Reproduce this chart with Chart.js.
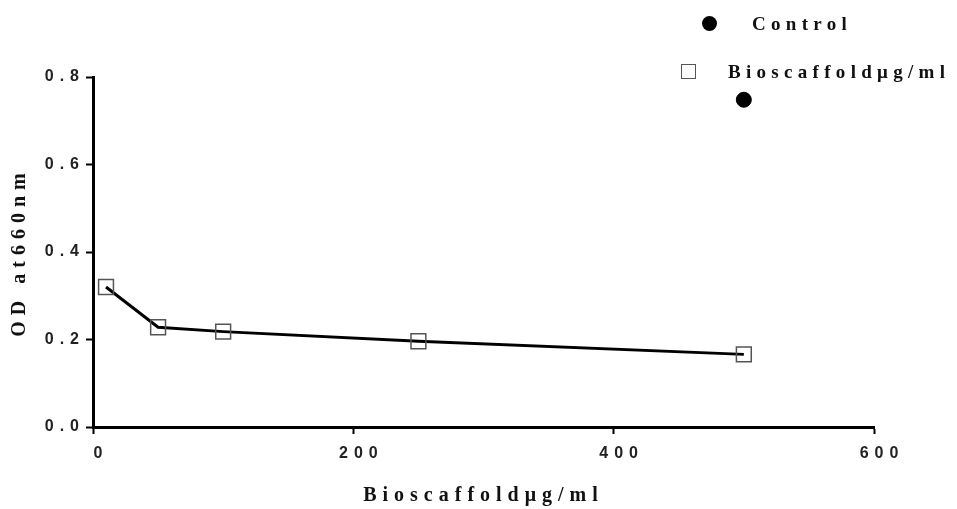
<!DOCTYPE html>
<html>
<head>
<meta charset="utf-8">
<script src="https://cdn.jsdelivr.net/npm/chart.js@4.4.1/dist/chart.umd.min.js"></script>
<style>
body { margin: 0; background: #fff; }
#wrap { position: relative; width: 957px; height: 509px; }
.leg { position: absolute; font: bold 19px "Liberation Serif", serif; letter-spacing: 5.3px; color: #111; white-space: nowrap; line-height: 22px; }
.dot { position: absolute; width: 15px; height: 15px; border-radius: 50%; background: #000; }
.box { position: absolute; width: 15px; height: 15px; border: 1.5px solid #555; box-sizing: border-box; }
</style>
</head>
<body>
<div id="wrap">
  <canvas id="grafico" width="957" height="509"></canvas>
  <div class="dot" style="left:702px;top:16px"></div>
  <div class="leg" id="legControl" style="left:752px;top:13px"></div>
  <div class="box" style="left:681px;top:64px"></div>
  <div class="leg" id="legBio" style="left:728px;top:61px"></div>
</div>
<script>
// dados
const concentracoes = [10, 50, 100, 250, 500];
const odBioscaffold = [0.32, 0.228, 0.218, 0.196, 0.166];
const concControle = [500];
const odControle = [0.748];

const labelControle = 'Control';
const labelBio = 'Bioscaffoldμg/ml';
const tituloX = 'Bioscaffoldμg/ml';
const tituloY = 'OD at660nm';

document.getElementById('legControl').textContent = labelControle;
document.getElementById('legBio').textContent = labelBio;

// espacamento entre letras (o canvas reseta o estado, entao aplica sempre)
const espacamento = {
    id: 'espacamento',
    beforeUpdate(chart) { chart.ctx.letterSpacing = '6px'; },
    beforeDraw(chart) { chart.ctx.letterSpacing = '6px'; }
};

const fonteTick = { family: 'Liberation Sans', weight: 'bold', size: 16 };
const fonteTitulo = { family: 'Liberation Serif', weight: 'bold', size: 20 };

const ctx = document.getElementById('grafico').getContext('2d');
new Chart(ctx, {
    type: 'line',
    data: {
        datasets: [{
            label: labelBio,
            data: concentracoes.map((x, i) => ({ x: x, y: odBioscaffold[i] })),
            borderColor: '#000',
            borderWidth: 3,
            pointStyle: 'rect',
            pointRadius: 10.5,
            pointBorderWidth: 1.5,
            pointBorderColor: '#555',
            pointBackgroundColor: 'rgba(0,0,0,0)',
            tension: 0,
            fill: false
        }, {
            label: labelControle,
            data: concControle.map((x, i) => ({ x: x, y: odControle[i] })),
            showLine: false,
            pointStyle: 'circle',
            pointRadius: 7.5,
            pointBackgroundColor: '#000',
            pointBorderColor: '#000',
            borderColor: '#000'
        }]
    },
    options: {
        responsive: false,
        animation: false,
        devicePixelRatio: 1,
        layout: { padding: { top: 77, right: 83, left: 0, bottom: 0 } },
        plugins: { legend: { display: false }, tooltip: { enabled: false } },
        scales: {
            x: {
                type: 'linear',
                min: 0,
                max: 600,
                border: { color: '#000', width: 3 },
                grid: { drawOnChartArea: false, drawTicks: true, tickLength: 7, tickWidth: 2, color: '#000' },
                ticks: { stepSize: 200, font: fonteTick, color: '#222', padding: 10, labelOffset: 8 },
                title: { display: true, text: tituloX, font: fonteTitulo, color: '#111', padding: { top: 4, bottom: 1 } },
                afterFit(s) { s.height = 82; }
            },
            y: {
                min: 0,
                max: 0.8,
                border: { color: '#000', width: 3 },
                grid: { drawOnChartArea: false, drawTicks: true, tickLength: 7, tickWidth: 2, color: '#000' },
                ticks: { stepSize: 0.2, font: fonteTick, color: '#222', padding: 1, callback: v => v.toFixed(1) },
                title: { display: true, text: tituloY, font: fonteTitulo, color: '#111', padding: { top: 8, bottom: 4 } },
                afterFit(s) { s.width = 93; }
            }
        }
    },
    plugins: [espacamento]
});
</script>
</body>
</html>
